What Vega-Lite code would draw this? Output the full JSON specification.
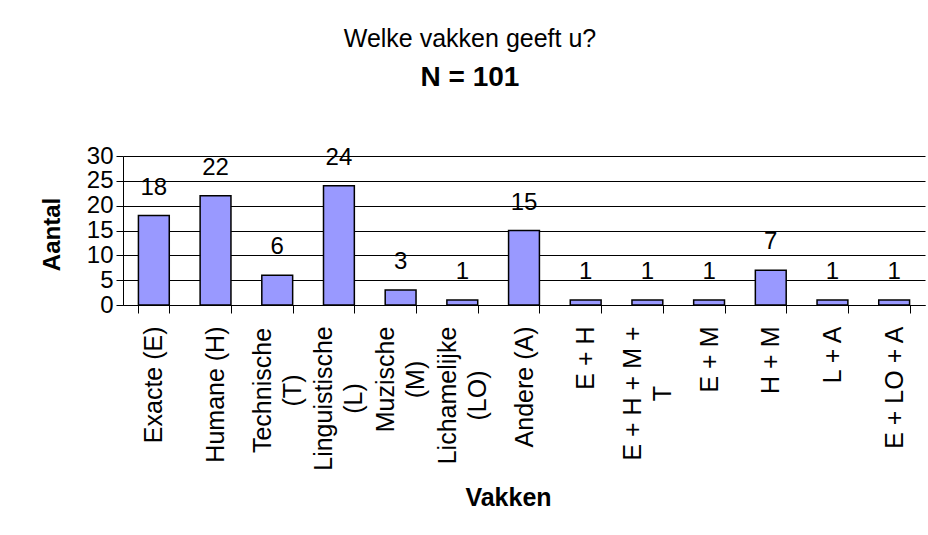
{
  "$schema": "https://vega.github.io/schema/vega-lite/v6.json",
  "autosize": {"type": "none"},
  "width": 802,
  "height": 149,
  "padding": {"left": 123, "top": 156, "right": 3, "bottom": 230},
  "background": "white",
  "config": {"view": {"stroke": null}, "font": "Liberation Sans"},
  "title": {
    "text": "Welke vakken geeft u?",
    "subtitle": "N = 101",
    "anchor": "middle",
    "frame": "group",
    "dx": -54,
    "offset": 52,
    "font": "Liberation Sans",
    "fontSize": 25,
    "fontWeight": "normal",
    "color": "black",
    "subtitleFont": "Liberation Sans",
    "subtitleFontSize": 28,
    "subtitleFontWeight": "bold",
    "subtitleColor": "black",
    "subtitlePadding": 12
  },
  "data": {
    "values": [
      {"vak": "Exacte (E)", "aantal": 18},
      {"vak": "Humane (H)", "aantal": 22},
      {"vak": "Technische (T)", "aantal": 6},
      {"vak": "Linguistische (L)", "aantal": 24},
      {"vak": "Muzische (M)", "aantal": 3},
      {"vak": "Lichamelijke (LO)", "aantal": 1},
      {"vak": "Andere (A)", "aantal": 15},
      {"vak": "E + H", "aantal": 1},
      {"vak": "E + H + M + T", "aantal": 1},
      {"vak": "E + M", "aantal": 1},
      {"vak": "H + M", "aantal": 7},
      {"vak": "L + A", "aantal": 1},
      {"vak": "E + LO + A", "aantal": 1}
    ]
  },
  "encoding": {
    "x": {
      "field": "vak",
      "type": "nominal",
      "sort": null,
      "scale": {"paddingInner": 0.5, "paddingOuter": 0.25},
      "axis": {
        "title": "Vakken",
        "titleFont": "Liberation Sans",
        "titleFontSize": 25,
        "titleFontWeight": "bold",
        "titleColor": "black",
        "titleX": 385,
        "titleY": 192,
        "titleAlign": "center",
        "titleBaseline": "middle",
        "labelAngle": -90,
        "labelAlign": {
          "condition": {
            "test": "indexof(['Technische (T)', 'Linguistische (L)', 'Muzische (M)', 'Lichamelijke (LO)', 'E + H + M + T'], datum.value) >= 0",
            "value": "center"
          },
          "value": "right"
        },
        "labelBaseline": "middle",
        "labelFont": "Liberation Sans",
        "labelFontSize": 25,
        "labelColor": "black",
        "labelPadding": {
          "condition": [
            {"test": "datum.value == 'Technische (T)'", "value": 77},
            {"test": "datum.value == 'Linguistische (L)'", "value": 85},
            {"test": "datum.value == 'Muzische (M)'", "value": 66},
            {"test": "datum.value == 'Lichamelijke (LO)'", "value": 82},
            {"test": "datum.value == 'E + H + M + T'", "value": 80}
          ],
          "value": 13
        },
        "labelLineHeight": 30,
        "labelLimit": 300,
        "labelOverlap": false,
        "labelOffset": {
          "condition": {
            "test": "indexof(['Technische (T)', 'Linguistische (L)', 'Muzische (M)', 'Lichamelijke (LO)', 'E + H + M + T'], datum.value) >= 0",
            "value": -15
          },
          "value": 0
        },
        "labelExpr": "datum.label == 'Technische (T)' ? ['Technische', '(T)'] : datum.label == 'Linguistische (L)' ? ['Linguistische', '(L)'] : datum.label == 'Muzische (M)' ? ['Muzische', '(M)'] : datum.label == 'Lichamelijke (LO)' ? ['Lichamelijke', '(LO)'] : datum.label == 'E + H + M + T' ? ['E + H + M +', 'T'] : datum.label",
        "tickBand": "extent",
        "tickSize": 8,
        "tickColor": "black",
        "domainColor": "black",
        "grid": false
      }
    },
    "y": {
      "field": "aantal",
      "type": "quantitative",
      "scale": {"domain": [0, 30], "nice": false},
      "axis": {
        "title": "Aantal",
        "titleFont": "Liberation Sans",
        "titleFontSize": 24,
        "titleFontWeight": "bold",
        "titleColor": "black",
        "titleX": -71,
        "titleY": 78,
        "titleAngle": -90,
        "titleAlign": "center",
        "titleBaseline": "middle",
        "values": [0, 5, 10, 15, 20, 25, 30],
        "labelFont": "Liberation Sans",
        "labelFontSize": 24,
        "labelColor": "black",
        "labelPadding": 3,
        "tickSize": 7,
        "tickColor": "black",
        "domainColor": "black",
        "grid": true,
        "gridColor": "black",
        "gridWidth": 1,
        "gridOpacity": 1
      }
    }
  },
  "layer": [
    {"mark": {"type": "bar", "fill": "#9999FF", "stroke": "black", "strokeWidth": 1.5}},
    {
      "mark": {"type": "text", "dy": -21, "baseline": "alphabetic", "fontSize": 24, "font": "Liberation Sans", "color": "black"},
      "encoding": {"text": {"field": "aantal", "type": "quantitative"}}
    }
  ]
}
